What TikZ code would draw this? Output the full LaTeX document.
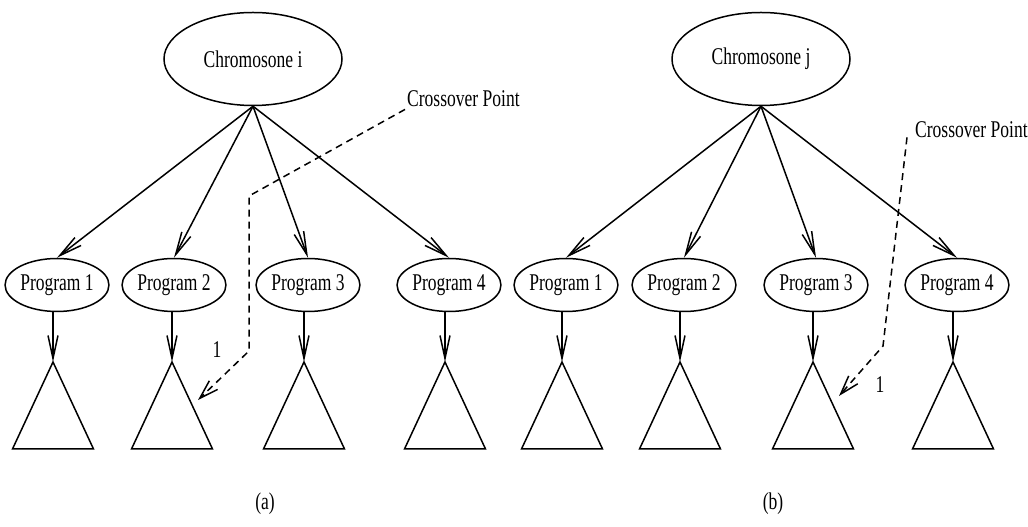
\documentclass[tikz,border=0pt]{standalone}
\usepackage{fontspec}
\setmainfont{Liberation Serif}[FakeStretch=0.73]
\usetikzlibrary{shapes.geometric,arrows.meta}

\tikzset{
  every node/.style={font=\fontsize{24}{27}\selectfont},
  chrom/.style={draw,ellipse,line width=1.5pt,minimum width=178pt,minimum height=93pt,inner sep=0pt},
  prog/.style={draw,ellipse,line width=1.5pt,minimum width=97pt,minimum height=53pt,inner sep=0pt},
  arr/.style={line width=1.5pt,-{Straight Barb[length=23pt,width=10pt]}},
  crossline/.style={line width=1.5pt,dash pattern=on 7pt off 5pt,-{Straight Barb[length=19pt,width=12pt]}},
  crosstext/.style={anchor=base west,inner sep=2pt}
}

\begin{document}
\begin{tikzpicture}[x=1pt,y=1pt]
\useasboundingbox (0,0) rectangle (1028,527);

\node[chrom] (chromI) at (253,468) {Chromosone i};
\node[chrom] (chromJ) at (761,468) {Chromosone j};

\foreach \n/\x/\t in {1/57/53,2/174/172,3/308/304,4/449/445} {
  \node[prog] (pI\n) at (\x,242) {Program \n};
  \coordinate (tI\n) at (\t,165);
  \draw[arr] (chromI.south) -- (pI\n.north);
  \draw[arr] (pI\n.south -| tI\n) -- (tI\n);
  \draw[line width=1.5pt] (tI\n) -- ++(-40.5,-87) -- ++(81,0) -- cycle;
}
\foreach \n/\x/\t in {1/566/562,2/684/680,3/816/813,4/957/953} {
  \node[prog] (pJ\n) at (\x,242) {Program \n};
  \coordinate (tJ\n) at (\t,165);
  \draw[arr] (chromJ.south) -- (pJ\n.north);
  \draw[arr] (pJ\n.south -| tJ\n) -- (tJ\n);
  \draw[line width=1.5pt] (tJ\n) -- ++(-40.5,-87) -- ++(81,0) -- cycle;
}

\node[crosstext] (crossI) at (405,420) {Crossover Point};
\coordinate (ptI) at (198,127);
\draw[crossline] (crossI.south west) -- (249,331) -- (249,176) -- (ptI);
\node (oneI) at (217,177) {1};

\node[crosstext] (crossJ) at (913,389) {Crossover Point};
\coordinate (ptJ) at (839,131);
\draw[crossline] ([shift={(-6pt,3pt)}]crossJ.south west) -- (883,181) -- (ptJ);
\node (oneJ) at (880,142) {1};

\node (capA) at (265,23) {(a)};
\node (capB) at (773,23) {(b)};
\end{tikzpicture}
\end{document}
